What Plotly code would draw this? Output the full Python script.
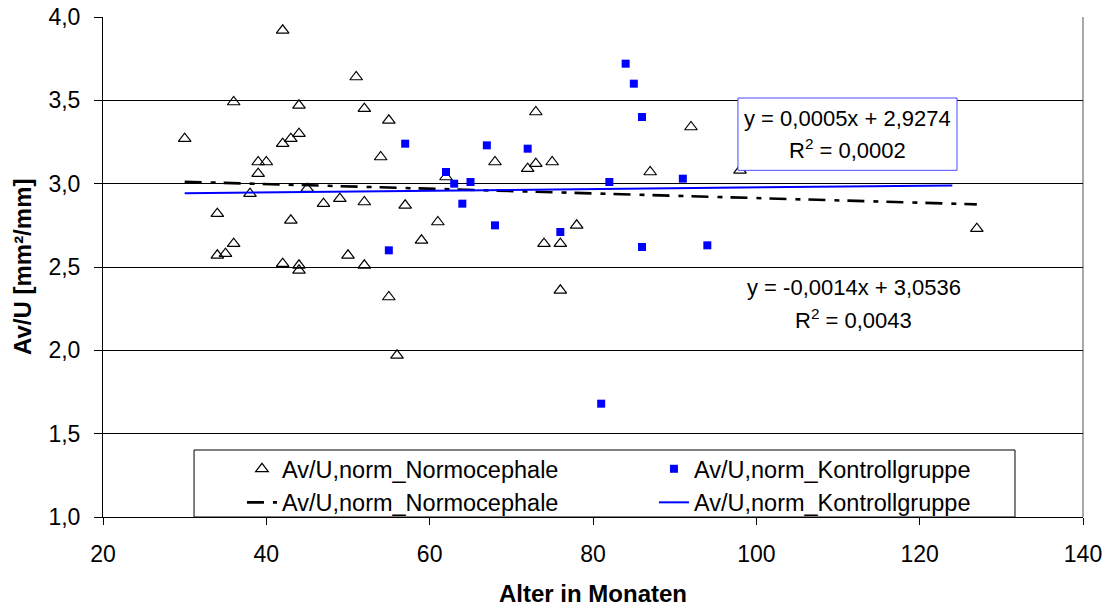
import plotly.graph_objects as go

# Normocephale: age in months and Av/U (normalised)
normo_age = [30, 34, 34, 35, 36, 36, 38, 39, 39, 40, 42, 42, 42, 43, 43,
             44, 44, 44, 44, 45, 47, 49, 50, 51, 52, 52, 52, 54, 55, 55,
             56, 57, 59, 61, 62, 68, 72, 73, 73, 74, 75, 76, 76, 78, 87,
             92, 98, 127]
normo_avu = [3.27, 2.82, 2.57, 2.58, 3.49, 2.64, 2.94, 3.13, 3.06, 3.13, 3.92, 3.24, 2.52, 3.27, 2.78,
             3.47, 3.30, 2.51, 2.48, 2.97, 2.88, 2.91, 2.57, 3.64, 3.45, 2.89, 2.51, 3.16, 3.38, 2.32,
             1.97, 2.87, 2.66, 2.77, 3.04, 3.13, 3.09, 3.43, 3.12, 2.64, 3.13, 2.64, 2.36, 2.75, 3.07,
             3.34, 3.08, 2.73]

# Kontrollgruppe
kontroll_age = [55, 57, 62, 63, 64, 65, 67, 68, 72, 76, 81, 82, 84, 85, 86, 86, 91, 94]
kontroll_avu = [2.60, 3.24, 3.07, 3.00, 2.88, 3.01, 3.23, 2.75, 3.21, 2.71, 1.68, 3.01,
                3.72, 3.60, 3.40, 2.62, 3.03, 2.63]

# Linear trend lines (slope, intercept, R^2) and the x span they are drawn over
normo_fit = [-0.0014, 3.0536, 0.0043]
kontroll_fit = [0.0005, 2.9274, 0.0002]
normo_span = [min(normo_age), max(normo_age)]
kontroll_span = [30, 124]

series_name_n = "Av/U,norm_Normocephale"
series_name_k = "Av/U,norm_Kontrollgruppe"

y_ticks = [1.0, 1.5, 2.0, 2.5, 3.0, 3.5, 4.0]
x_ticks = [20, 40, 60, 80, 100, 120, 140]

FONT = "Liberation Sans, Arial, sans-serif"


def trend(fit, span):
    xs = list(span)
    return xs, [fit[0] * x + fit[1] for x in xs]


def eq_text(fit):
    return ("y = %.4fx + %.4f" % (fit[0], fit[1])).replace(".", ",")


def r2_text(fit):
    return ("R<sup>2</sup> = %.4f" % fit[2]).replace(".", ",")


fig = go.Figure()

fig.add_trace(go.Scatter(
    x=normo_age, y=normo_avu, mode="markers", name=series_name_n,
    marker=dict(symbol="triangle-up-open", size=11, color="black",
                line=dict(color="black", width=1.2)),
))
fig.add_trace(go.Scatter(
    x=kontroll_age, y=kontroll_avu, mode="markers", name=series_name_k,
    marker=dict(symbol="square", size=8, color="#0000ff",
                line=dict(width=0)),
))
nx, ny = trend(normo_fit, normo_span)
fig.add_trace(go.Scatter(
    x=nx, y=ny, mode="lines", name=series_name_n,
    line=dict(color="black", width=2.6, dash="17px,9px,5px,8px"),
))
kx, ky = trend(kontroll_fit, kontroll_span)
fig.add_trace(go.Scatter(
    x=kx, y=ky, mode="lines", name=series_name_k,
    line=dict(color="#0000ff", width=2),
))

tick_font = dict(family=FONT, size=23, color="black")

fig.update_xaxes(
    range=[20, 140], tickvals=x_ticks, showgrid=False, zeroline=False,
    showline=True, linecolor="black", linewidth=1, automargin=False,
    ticks="outside", ticklen=7, tickcolor="black", tickwidth=1,
    tickfont=tick_font, ticklabelstandoff=9,
)
fig.update_yaxes(
    range=[1, 4], tickvals=y_ticks, tickformat=".1f",
    showgrid=True, gridcolor="black", gridwidth=1, zeroline=False,
    showline=True, linecolor="black", linewidth=1, automargin=False,
    ticks="outside", ticklen=8, tickcolor="black", tickwidth=1,
    tickfont=tick_font, ticklabelstandoff=9,
)

shapes = [
    # right border of the plot area
    dict(type="line", xref="paper", yref="paper", x0=1, x1=1, y0=0, y1=1,
         line=dict(color="#8c8c8c", width=1.5), layer="below"),
    # legend frame
    dict(type="rect", xref="paper", yref="paper", x0=0.0929, x1=0.9306,
         y0=0.0, y1=0.134, fillcolor="white",
         line=dict(color="black", width=1), layer="above"),
    # frame around the Kontrollgruppe equation
    dict(type="rect", xref="x", yref="y", x0=97.75, x1=124.57,
         y0=3.080, y1=3.514, fillcolor="white",
         line=dict(color="#4a4aff", width=1), layer="above"),
]

eq_font = dict(family=FONT, size=22, color="black")
annotations = [
    dict(x=111.15, y=3.390, xref="x", yref="y", text=eq_text(kontroll_fit),
         showarrow=False, font=eq_font, xanchor="center", yanchor="middle"),
    dict(x=111.15, y=3.210, xref="x", yref="y", text=r2_text(kontroll_fit),
         showarrow=False, font=eq_font, xanchor="center", yanchor="middle"),
    dict(x=111.92, y=2.380, xref="x", yref="y", text=eq_text(normo_fit),
         showarrow=False, font=eq_font, xanchor="center", yanchor="middle"),
    dict(x=111.92, y=2.190, xref="x", yref="y", text=r2_text(normo_fit),
         showarrow=False, font=eq_font, xanchor="center", yanchor="middle"),
    # axis titles
    dict(x=0.5, y=0, xref="paper", yref="paper", yshift=-76,
         text="<b>Alter in Monaten</b>", showarrow=False,
         font=dict(family=FONT, size=24, color="black"),
         xanchor="center", yanchor="middle"),
    dict(x=0, y=0.5, xref="paper", yref="paper", xshift=-81,
         text="<b>Av/U [mm²/mm]</b>", showarrow=False, textangle=-90,
         font=dict(family=FONT, size=24, color="black"),
         xanchor="center", yanchor="middle"),
]

fig.update_layout(
    width=1110, height=612,
    margin=dict(l=103, r=27, t=17, b=95, autoexpand=False),
    paper_bgcolor="white", plot_bgcolor="white",
    separators=",.",
    font=dict(family=FONT, color="black"),
    showlegend=True,
    legend=dict(
        orientation="h", x=0.1418, y=0.14, xanchor="left", yanchor="top",
        bgcolor="rgba(0,0,0,0)", borderwidth=0,
        font=dict(family=FONT, size=23.5, color="black"),
        entrywidth=367, entrywidthmode="pixels",
        itemsizing="trace", tracegroupgap=0,
    ),
    shapes=shapes,
    annotations=annotations,
)

fig.write_html("out.html")
